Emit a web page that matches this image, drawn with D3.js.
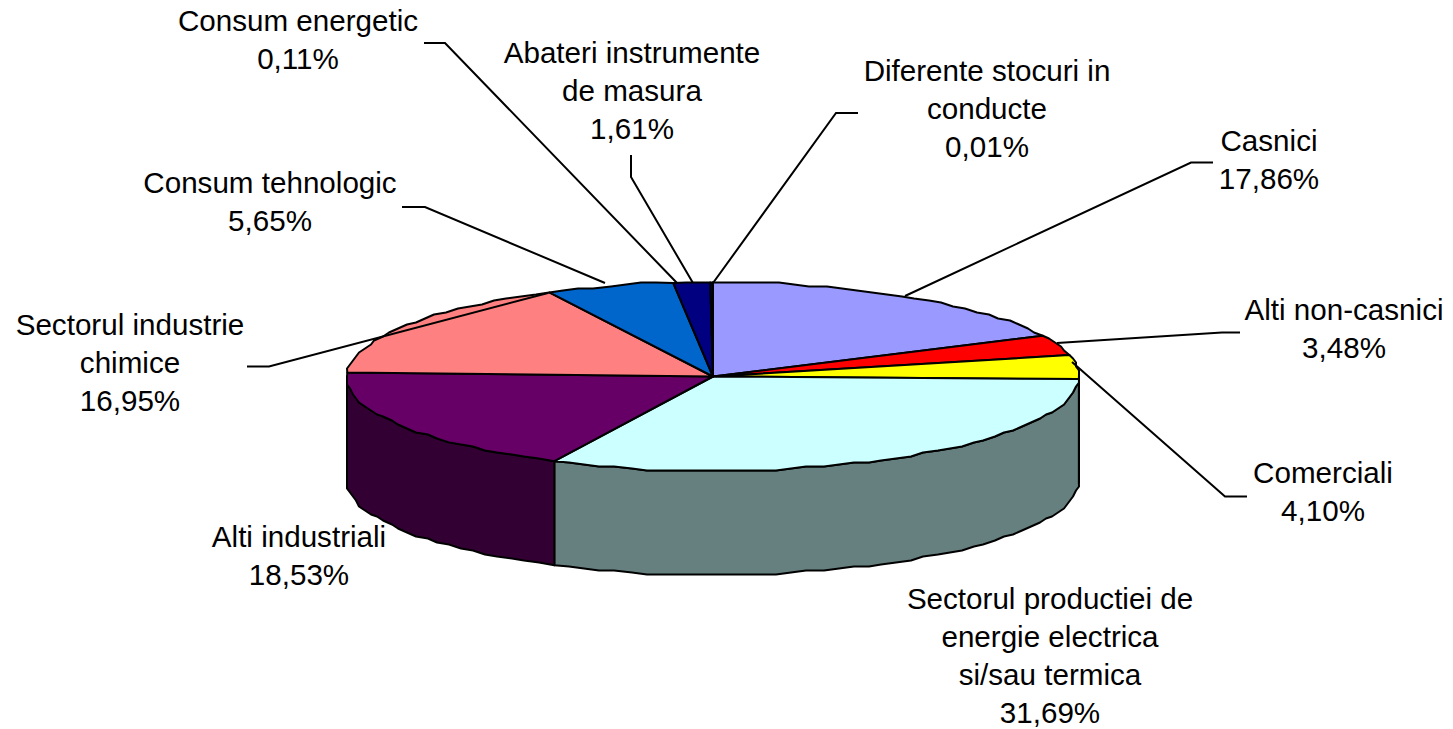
<!DOCTYPE html>
<html><head><meta charset="utf-8">
<script src="https://cdn.jsdelivr.net/npm/d3@7"></script>
<style>html,body{margin:0;padding:0;background:#fff}svg{display:block}text{font-family:"Liberation Sans",Arial,sans-serif;font-size:29.6px;fill:#000}</style>
</head><body><div id="c"></div>
<script>
const categories=["Casnici","Alti non-casnici","Comerciali","Sectorul productiei de energie electrica si/sau termica","Alti industriali","Sectorul industrie chimice","Consum tehnologic","Abateri instrumente de masura","Consum energetic","Diferente stocuri in conducte"];
const values=[17.86,3.48,4.10,31.69,18.53,16.95,5.65,1.61,0.11,0.01];
const topColors=["#9999FF","#FF0000","#FFFF00","#CCFFFF","#660066","#FF8080","#0066CC","#000080","#000080","#9999FF"];
const sideColors=["#4D4D80","#800000","#808000","#668080","#330033","#804040","#003366","#000040","#000040","#4D4D80"];
const labelLines=[["Casnici","17,86%"],["Alti non-casnici","3,48%"],["Comerciali","4,10%"],["Sectorul productiei de","energie electrica","si/sau termica","31,69%"],["Alti industriali","18,53%"],["Sectorul industrie","chimice","16,95%"],["Consum tehnologic","5,65%"],["Abateri instrumente","de masura","1,61%"],["Consum energetic","0,11%"],["Diferente stocuri in","conducte","0,01%"]];
// layout (label centre x, first baseline y)
const labelX=[1269,1344,1323,1050,299,130,270,632,298,987];
const labelY=[151,320,483,608.5,547,335,193,63,31,81];
const leaders=[[[1213,162.5],[1191,162.5],[905,296]],[[1240,332.5],[1222,332.5],[1057,343]],[[1247,496.5],[1225,496.5],[1072,362]],null,null,[[247,366.5],[269,366.5],[548,293]],[[402,207],[425,207],[605,283]],[[631,155],[631,177],[693,283]],[[424,43],[445,43],[677,283]],[[858,113],[836,113],[713,283]]];

const W=1453,H=729,cx=713,cy=376.5,rx=366,ry=94,depth=104;
const svg=d3.select("#c").append("svg").attr("width",W).attr("height",H);
const arcs=d3.pie().sort(null).value(d=>d)(values);
const px=a=>cx+rx*Math.sin(a), py=a=>cy-ry*Math.cos(a);
// slightly stepped outline of the low-resolution ellipse, flat at the extremes
const snapX=v=>{const d=v-cx,m=Math.abs(d);return cx+Math.sign(d)*(m>0.995*rx?rx:Math.round(m/3)*3)};
const snapY=v=>{const d=v-cy,m=Math.abs(d);return cy+Math.sign(d)*(m>0.98*ry?ry:Math.round(m/2)*2)};
const rim=(a0,a1)=>{const n=Math.max(2,Math.ceil((a1-a0)/0.045));
  return d3.range(n+1).map(i=>{const a=a0+(a1-a0)*i/n;return (i==0||i==n)?[px(a),py(a)]:[snapX(px(a)),snapY(py(a))]})};
const line=d3.line();
const front0=Math.PI/2,front1=3*Math.PI/2;
const g=svg.append("g").attr("stroke","#000").attr("stroke-width",2).attr("stroke-linejoin","round");
arcs.forEach((d,i)=>{
  const a0=Math.max(d.startAngle,front0),a1=Math.min(d.endAngle,front1);
  if(a1<=a0)return;
  const t=rim(a0,a1);
  const b=t.slice().reverse().map(p=>[p[0],p[1]+depth]);
  g.append("path").attr("d",line(t.concat(b))+"Z").attr("fill",sideColors[i]);
});
arcs.forEach((d,i)=>{
  g.append("path").attr("d",line([[cx,cy],...rim(d.startAngle,d.endAngle)])+"Z").attr("fill",topColors[i]);
});
const lg=svg.append("g").attr("fill","none").attr("stroke","#000").attr("stroke-width",2);
leaders.forEach(l=>{if(l)lg.append("path").attr("d",line(l))});
labelLines.forEach((ls,i)=>{
  const t=svg.append("text").attr("text-anchor","middle");
  ls.forEach((s,j)=>t.append("tspan").attr("x",labelX[i]).attr("y",labelY[i]+j*38).text(s));
});
</script></body></html>
